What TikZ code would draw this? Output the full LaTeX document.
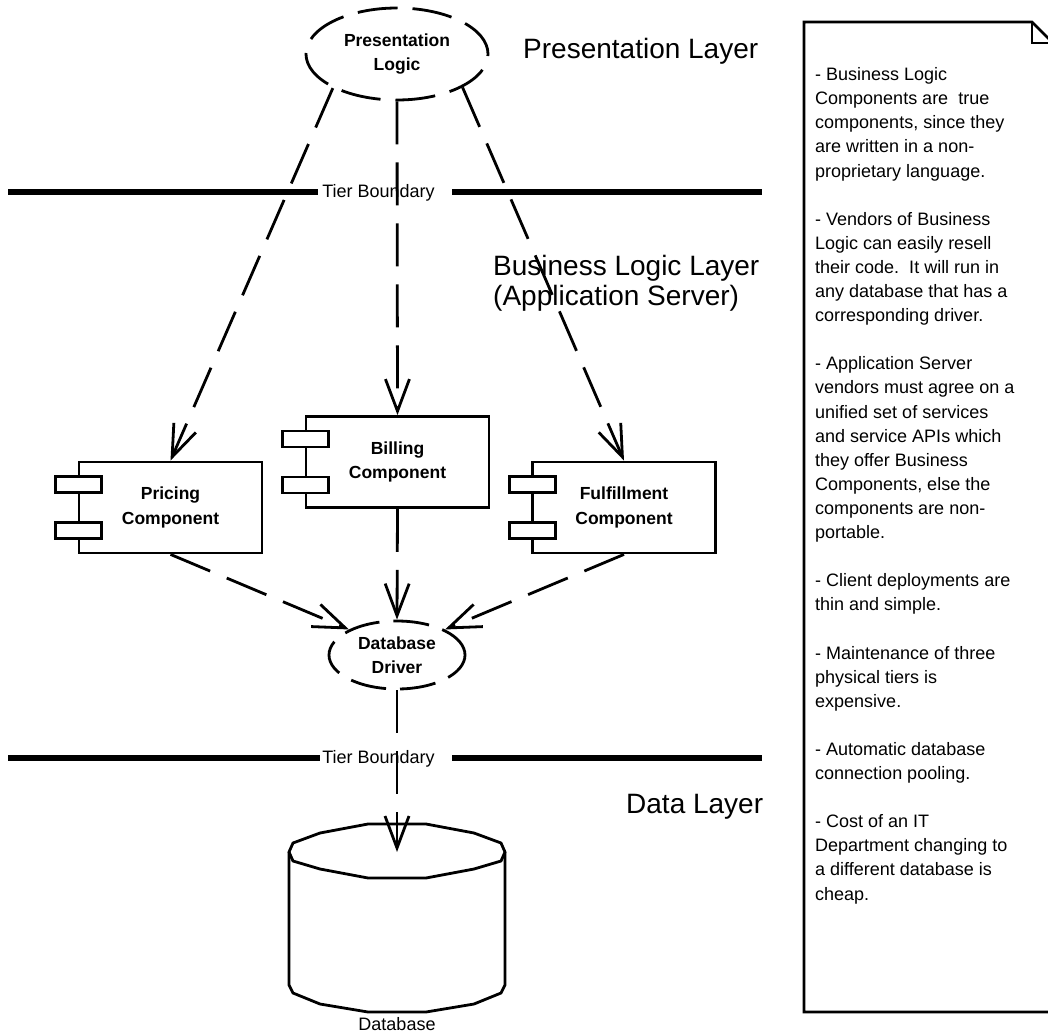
\documentclass[tikz,border=0pt]{standalone}
\usepackage{fontspec}
\setmainfont{Liberation Sans}
\usetikzlibrary{shapes.geometric,arrows.meta}
\begin{document}
\begin{tikzpicture}[x=1pt,y=-1pt,
  lw/.style={line width=2.8pt},
  bodyfont/.style={font=\fontsize{17.5}{24.5}\selectfont\bfseries},
  ell/.style={ellipse, draw, lw, dash pattern=on 40pt off 15pt, inner sep=0pt, align=center, bodyfont},
  comp/.style={rectangle, draw, lw, fill=white, inner sep=0pt, minimum width=183pt, minimum height=91pt, align=center, bodyfont},
  port/.style={draw, lw, fill=white},
  dep/.style={draw, lw, dash pattern=on 43pt off 18pt, -{Straight Barb[length=32pt,width=24pt]}},
  tier/.style={line width=6pt},
  tierlabel/.style={anchor=base, inner sep=0pt, font=\fontsize{18}{20}\selectfont},
  layer/.style={anchor=base west, inner sep=0pt, font=\fontsize{28}{30}\selectfont, align=left},
  notefont/.style={font=\fontsize{18}{24.1}\selectfont, inner sep=0pt}
]
\useasboundingbox (0,0) rectangle (1048,1033);
\clip (0,0) rectangle (1048,1033);

% tier boundaries
\coordinate (t1a) at (8,192);   \coordinate (t1b) at (318,192);
\coordinate (t1c) at (452,192); \coordinate (t1d) at (762,192);
\draw[tier] (t1a) -- (t1b) (t1c) -- (t1d);
\node[tierlabel] (tb1) at (378.5,197) {Tier Boundary};
\coordinate (t2a) at (8,758);   \coordinate (t2b) at (320,758);
\coordinate (t2c) at (452,758); \coordinate (t2d) at (762,758);
\draw[tier] (t2a) -- (t2b) (t2c) -- (t2d);
\node[tierlabel] (tb2) at (378.5,763) {Tier Boundary};

% layer labels
\node[layer] (lay1) at (523,59) {Presentation Layer};
\node[layer] (lay2) at (493,305) {Business Logic Layer\\(Application Server)};
\node[layer] (lay3) at (626,813) {Data Layer};

% nodes
\node[ell, minimum width=182pt, minimum height=92pt] (pl) at (397,54) {Presentation\\Logic};
\node[comp] (pr) at (170.5,507.5) {Pricing\\Component};
\node[comp] (bi) at (397.5,462) {Billing\\Component};
\node[comp] (fu) at (624,507.5) {Fulfillment\\Component};
\foreach \n in {pr,bi,fu}{
  \draw[port] ([shift={(-22,-31)}]\n.west) rectangle ([shift={(24,-15)}]\n.west);
  \draw[port] ([shift={(-22,15)}]\n.west) rectangle ([shift={(24,31)}]\n.west);
}
\node[ell, minimum width=136pt, minimum height=68pt, dash pattern=on 36pt off 14pt] (dd) at (397,655) {Database\\Driver};

% database cylinder
\draw[lw, line join=round, fill=white]
  (289,852) -- (289,985) -- (293,993) -- (320,1004) -- (368,1012) -- (426,1012)
  -- (474,1004) -- (501,993) -- (505,985) -- (505,852);
\draw[lw, line join=round]
  (289,852) -- (293,843) -- (320,833) -- (368,824) -- (426,824) -- (474,833)
  -- (501,843) -- (505,852) -- (501,861) -- (474,869) -- (426,878) -- (368,878)
  -- (320,869) -- (293,861) -- cycle;
\coordinate (dbtop) at (397,852);
\node[tierlabel] (dblabel) at (397,1030) {Database};

% dependencies
\draw[dep] (pl.208) -- (pr.north);
\draw[dep] (pl.south) -- (bi.north);
\draw[dep] (pl.333) -- (fu.north);
\draw[dep] (pr.south) -- (dd.152);
\draw[dep] (bi.south) -- (dd.north);
\draw[dep] (fu.south) -- (dd.28);
\draw[dep] (dd.south) -- (dbtop);

% note
\draw[lw, line join=miter] (1053,43) -- (1032,22) -- (804,22) -- (804,1012) -- (1053,1012) -- cycle;
\draw[lw] (1032,22) -- (1032,43) -- (1053,43);
\node[notefont, anchor=base west, align=left] (note) at (815,900) {%
- Business Logic\\
Components are\ \ true\\
components, since they\\
are written in a non-\\
proprietary language.\\[24.1pt]
- Vendors of Business\\
Logic can easily resell\\
their code.\ \ It will run in\\
any database that has a\\
corresponding driver.\\[24.1pt]
- Application Server\\
vendors must agree on a\\
unified set of services\\
and service APIs which\\
they offer Business\\
Components, else the\\
components are non-\\
portable.\\[24.1pt]
- Client deployments are\\
thin and simple.\\[24.1pt]
- Maintenance of three\\
physical tiers is\\
expensive.\\[24.1pt]
- Automatic database\\
connection pooling.\\[24.1pt]
- Cost of an IT\\
Department changing to\\
a different database is\\
cheap.};
\end{tikzpicture}
\end{document}
